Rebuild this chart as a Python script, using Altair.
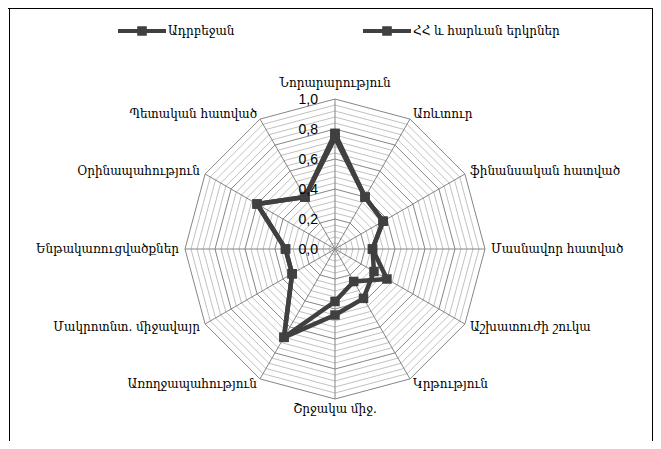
import altair as alt
import pandas as pd

# ---------------- data ----------------
axes = ["Նորարարություն", "Առևտուր", "ֆինանսական հատված", "Մասնավոր հատված",
        "Աշխատուժի շուկա", "Կրթություն", "Շրջակա միջ.", "Առողջապահություն",
        "Մակրոտնտ. միջավայր", "Ենթակառուցվածքներ", "Օրինապահություն", "Պետական հատված"]
series_names = ["Ադրբեջան", "ՀՀ և հարևան երկրներ"]
aze = [0.77, 0.40, 0.37, 0.25, 0.40, 0.25, 0.35, 0.68, 0.33, 0.33, 0.60, 0.40]
arm = [0.74, 0.40, 0.37, 0.25, 0.30, 0.38, 0.44, 0.68, 0.33, 0.33, 0.60, 0.40]
ticks = [0.0, 0.2, 0.4, 0.6, 0.8, 1.0]
minor_levels = [round(0.04 * k, 2) for k in range(1, 26)]

n = len(axes)
W, H = 645, 433
CX, CY, R = 327, 241, 150  # centre within the view (px) and radius of 1.0
xdom = [-CX / R, (W - CX) / R]
ydom = [(CY - H) / R, CY / R]
xs = alt.Scale(domain=xdom, nice=False, zero=False)
ys = alt.Scale(domain=ydom, nice=False, zero=False)

ANG = "datum.i * PI * 2 / %d" % n

# series table (closed polygon)
rows = []
for s, vals in zip(series_names, [aze, arm]):
    for k in range(n + 1):
        rows.append({"series": s, "i": k % n, "o": k, "v": vals[k % n]})
df = pd.DataFrame(rows)

# grid rings
grid_rows = []
for lv in minor_levels:
    major = abs(lv / 0.2 - round(lv / 0.2)) < 1e-6
    for k in range(n + 1):
        grid_rows.append({"lv": lv, "i": k % n, "o": k, "major": major})
gdf = pd.DataFrame(grid_rows)

spk = pd.DataFrame({"i": list(range(n))})
lab = pd.DataFrame({"i": list(range(n)), "label": axes})
tdf = pd.DataFrame({"t": ticks})

font = "DejaVu Serif"
grey = "#404040"

def xy(ch, r="datum.v"):
    return ch.transform_calculate(
        x=f"{r} * sin({ANG})", y=f"{r} * cos({ANG})")

ring_minor = xy(alt.Chart(gdf).transform_filter("!datum.major").mark_line(
    color="#a6a6a6", strokeWidth=0.7), "datum.lv").encode(
    x=alt.X("x:Q", scale=xs, axis=None), y=alt.Y("y:Q", scale=ys, axis=None),
    detail="lv:N", order="o:Q")
ring_major = xy(alt.Chart(gdf).transform_filter("datum.major").mark_line(
    color="#868686", strokeWidth=1), "datum.lv").encode(
    x=alt.X("x:Q", scale=xs, axis=None), y=alt.Y("y:Q", scale=ys, axis=None),
    detail="lv:N", order="o:Q")

spokes = alt.Chart(spk).transform_calculate(
    x0="0", y0="0", x=f"sin({ANG})", y=f"cos({ANG})").mark_rule(
    color="#868686", strokeWidth=1).encode(
    x=alt.X("x0:Q", scale=xs, axis=None), y=alt.Y("y0:Q", scale=ys, axis=None),
    x2="x:Q", y2="y:Q")

color = alt.Color("series:N", sort=series_names,
                  scale=alt.Scale(domain=series_names, range=[grey, grey]),
                  legend=alt.Legend(
                      title=None, orient="none", direction="horizontal",
                      legendX=110, legendY=-1, padding=0,
                      symbolType="M-1,-0.08H1V0.08H-1Z M-0.2,-0.2H0.2V0.2H-0.2Z",
                      symbolSize=2304, symbolStrokeWidth=0, symbolFillColor=grey,
                      labelFont=font, labelFontSize=12, labelColor="#000",
                      labelOffset=2, columnPadding=128, labelLimit=300))

lines = xy(alt.Chart(df).mark_line(strokeWidth=4.5, strokeJoin="round")).encode(
    x=alt.X("x:Q", scale=xs, axis=None), y=alt.Y("y:Q", scale=ys, axis=None),
    color=color, detail="series:N", order="o:Q")
points = xy(alt.Chart(df).mark_point(shape="square", filled=True, size=90, opacity=1)).encode(
    x=alt.X("x:Q", scale=xs, axis=None), y=alt.Y("y:Q", scale=ys, axis=None),
    color=alt.Color("series:N", scale=alt.Scale(domain=series_names, range=[grey, grey]), legend=None))

def labels(filt, align, baseline, dy=0, r="1.04"):
    return xy(alt.Chart(lab).transform_filter(filt).mark_text(
        align=align, baseline=baseline, dy=dy, font=font, fontSize=12, color="#000"), r).encode(
        x=alt.X("x:Q", scale=xs, axis=None), y=alt.Y("y:Q", scale=ys, axis=None), text="label:N")

lab_r = labels("datum.i > 0 && datum.i < 6", "left", "middle")
lab_l = labels("datum.i > 6", "right", "middle")
lab_t = labels("datum.i == 0", "center", "middle", dy=-10)
lab_b = labels("datum.i == 6", "center", "middle", dy=4)

tick_text = alt.Chart(tdf).transform_calculate(
    x="0", lbl="replace(format(datum.t, '.1f'), '.', ',')").mark_text(
    align="right", baseline="middle", dx=-17, dy=1, font="Liberation Sans", fontSize=14,
    color="#000").encode(
    x=alt.X("x:Q", scale=xs, axis=None), y=alt.Y("t:Q", scale=ys, axis=None), text="lbl:N")

frame_df = pd.DataFrame({"k": [0]})
frame_l = alt.Chart(frame_df).mark_rule(color="#000", strokeWidth=1).encode(
    x=alt.value(1.5), y=alt.value(0), y2=alt.value(H))
frame_t = alt.Chart(frame_df).mark_rule(color="#000", strokeWidth=1).encode(
    x=alt.value(0), x2=alt.value(W), y=alt.value(0.5))
frame_r = alt.Chart(frame_df).mark_rule(color="#000", strokeWidth=1).encode(
    x=alt.value(W - 0.5), y=alt.value(0), y2=alt.value(H))

chart = alt.layer(
    ring_minor, ring_major, spokes, lines, points, tick_text,
    lab_r, lab_l, lab_t, lab_b, frame_l, frame_t, frame_r
).properties(
    width=W, height=H, padding=0, autosize=alt.AutoSizeParams(type="none"),
    background="white"
).configure_view(stroke=None)

chart.save("out.html", embed_options={"renderer": "svg", "actions": False})
